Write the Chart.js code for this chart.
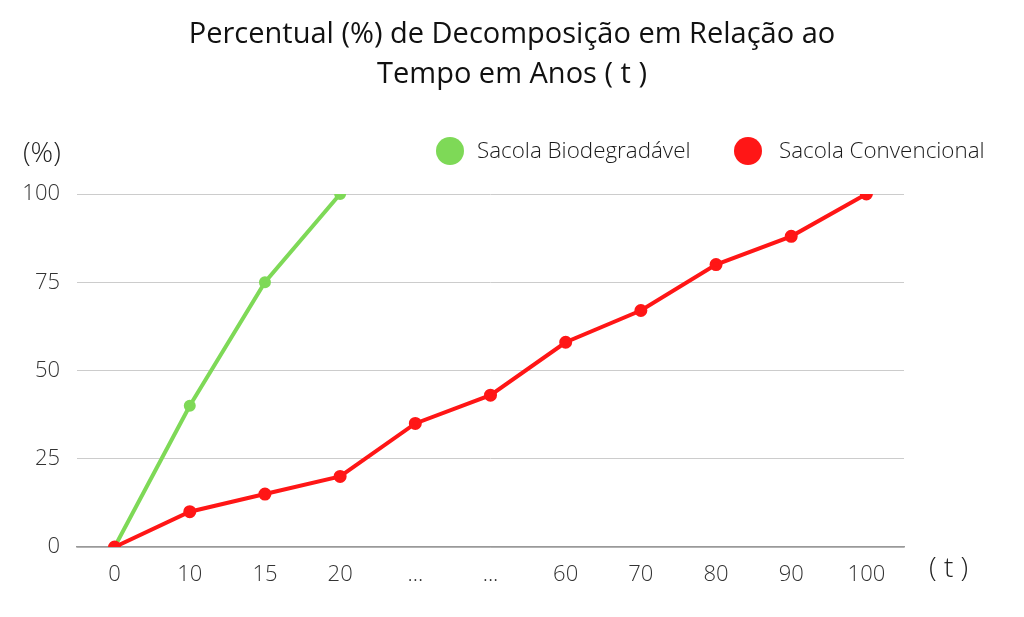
<!DOCTYPE html>
<html>
<head>
<meta charset="utf-8">
<script src="https://cdn.jsdelivr.net/npm/chart.js@4"></script>
<style>
html,body{margin:0;padding:0;background:#fff;}
#wrap{width:1024px;height:617px;position:relative;}
</style>
</head>
<body>
<div id="wrap"><canvas id="c" width="1024" height="617"></canvas></div>
<script>
const categories = ['0','10','15','20','...','...','60','70','80','90','100'];
const biodegradavel = [0, 40, 75, 100, null, null, null, null, null, null, null];
const convencional = [0, 10, 15, 20, 35, 43, 58, 67, 80, 88, 100];
const yTicks = [0, 25, 50, 75, 100];
const seriesNames = ['Sacola Biodegradável', 'Sacola Convencional'];
const titleLines = ['Percentual (%) de Decomposição em Relação ao', 'Tempo em Anos ( t )'];
const yAxisLabel = '(%)';
const xAxisLabel = '( t )';

const GREEN = '#7ed957';
const RED = '#ff1616';
const FONT = '"Open Sans", sans-serif';

const extras = {
  id: 'extras',
  afterDraw(chart) {
    const ctx = chart.ctx;
    ctx.save();
    ctx.fillStyle = '#111';
    ctx.textAlign = 'center';
    ctx.textBaseline = 'middle';
    ctx.font = '400 29px ' + FONT;
    ctx.fillText(titleLines[0], 512, 35);
    ctx.fillText(titleLines[1], 512, 75);
    // axis labels
    ctx.font = '300 28px ' + FONT;
    ctx.fillStyle = '#222';
    ctx.textAlign = 'left';
    ctx.fillText(yAxisLabel, 23, 154);
    ctx.fillText(xAxisLabel, 929, 569);
    // legend
    const items = [
      {x: 450, tx: 477, color: GREEN, text: seriesNames[0]},
      {x: 748, tx: 779, color: RED, text: seriesNames[1]}
    ];
    ctx.font = '300 22.4px ' + FONT;
    items.forEach(it => {
      ctx.beginPath();
      ctx.fillStyle = it.color;
      ctx.arc(it.x, 151, 14, 0, Math.PI * 2);
      ctx.fill();
      ctx.fillStyle = '#1a1a1a';
      ctx.fillText(it.text, it.tx, 152);
    });
    ctx.restore();
  }
};

new Chart(document.getElementById('c'), {
  type: 'line',
  data: {
    labels: categories,
    datasets: [
      {
        label: seriesNames[1],
        data: convencional,
        borderColor: RED,
        backgroundColor: RED,
        borderWidth: 4,
        pointRadius: 4.5,
        pointHoverRadius: 4.5,
        tension: 0
      },
      {
        label: seriesNames[0],
        data: biodegradavel,
        borderColor: GREEN,
        backgroundColor: GREEN,
        borderWidth: 4,
        pointRadius: 4,
        pointHoverRadius: 4,
        tension: 0,
        spanGaps: false
      }
    ]
  },
  options: {
    responsive: false,
    animation: false,
    layout: { padding: { left: 0, right: 120, top: 194, bottom: 0 } },
    plugins: {
      legend: { display: false },
      title: { display: false },
      tooltip: { enabled: false }
    },
    scales: {
      x: {
        offset: true,
        grid: { display: false, drawTicks: false },
        border: { display: true, color: '#999', width: 1.5 },
        ticks: { color: '#333', font: { family: FONT, size: 22, weight: 300 }, padding: 15, maxRotation: 0, autoSkip: false },
        afterFit(scale) { scale.height = 617 - 547; }
      },
      y: {
        min: 0, max: 100,
        afterBuildTicks(scale) { scale.ticks = yTicks.map(v => ({ value: v })); },
        grid: { color: '#cccccc', lineWidth: 1, drawTicks: false },
        border: { display: false },
        ticks: { color: '#333', font: { family: FONT, size: 22, weight: 300 }, padding: 17 },
        afterFit(scale) { scale.width = 77; }
      }
    }
  },
  plugins: [extras]
});
</script>
</body>
</html>
